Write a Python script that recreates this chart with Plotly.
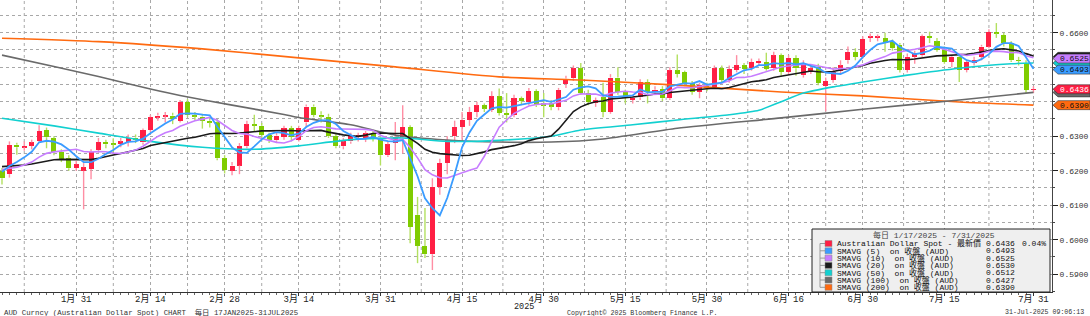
import numpy as np
import pandas as pd
import plotly.graph_objects as go

# ---------------- data ----------------
dates = pd.bdate_range("2025-01-17", "2025-07-31")

opens = [.6200,.6190,.6275,.6268,.6272,.6285,.6318,.6294,.6254,.6236,
         .6208,.6200,.6205,.6260,.6283,.6280,.6276,.6283,.6296,.6282,
         .6318,.6355,.6358,.6360,.6344,.6399,.6361,.6357,.6345,.6340,
         .6236,.6200,.6215,.6271,.6335,.6330,.6303,.6288,.6298,.6323,
         .6290,.6340,.6386,.6362,.6356,.6300,.6271,.6285,.6298,.6295,
         .6308,.6296,.6245,.6280,.6297,.6327,.6072,.5982,.5958,.6153,
         .6222,.6300,.6327,.6347,.6370,.6390,.6376,.6416,.6367,.6362,
         .6410,.6398,.6431,.6395,.6395,.6384,.6450,.6468,.6497,.6425,
         .6396,.6413,.6370,.6470,.6428,.6405,.6413,.6457,.6428,.6437,
         .6410,.6491,.6486,.6454,.6428,.6445,.6443,.6497,.6463,.6492,
         .6506,.6497,.6512,.6515,.6497,.6535,.6486,.6527,.6477,.6490,
         .6500,.6445,.6463,.6490,.6520,.6544,.6530,.6585,.6585,.6585,
         .6573,.6565,.6492,.6530,.6535,.6590,.6575,.6550,.6515,.6530,
         .6492,.6515,.6530,.6560,.6602,.6593,.6570,.6520,.6512,.6434]
highs = [.6208,.6285,.6281,.6285,.6290,.6332,.6325,.6300,.6262,.6245,
         .6228,.6222,.6262,.6295,.6290,.6294,.6295,.6305,.6305,.6322,
         .6362,.6368,.6370,.6368,.6405,.6408,.6370,.6365,.6355,.6350,
         .6245,.6225,.6280,.6345,.6362,.6338,.6310,.6312,.6330,.6330,
         .6330,.6392,.6392,.6372,.6365,.6310,.6295,.6310,.6310,.6315,
         .6315,.6300,.6285,.6341,.6390,.6332,.6124,.6092,.6178,.6235,
         .6300,.6345,.6370,.6385,.6400,.6395,.6430,.6438,.6425,.6420,
         .6415,.6440,.6436,.6425,.6405,.6440,.6475,.6505,.6512,.6435,
         .6412,.6455,.6480,.6500,.6435,.6420,.6465,.6465,.6445,.6445,
         .6500,.6537,.6490,.6460,.6455,.6455,.6505,.6505,.6505,.6535,
         .6512,.6525,.6525,.6542,.6545,.6540,.6535,.6535,.6520,.6505,
         .6510,.6470,.6500,.6520,.6560,.6555,.6590,.6598,.6595,.6600,
         .6580,.6570,.6540,.6548,.6595,.6603,.6585,.6560,.6535,.6535,
         .6520,.6530,.6565,.6610,.6628,.6600,.6575,.6530,.6520,.6445]
lows = [.6160,.6180,.6246,.6258,.6262,.6280,.6265,.6245,.6225,.6200,
        .6200,.6088,.6175,.6252,.6265,.6250,.6268,.6270,.6280,.6275,
        .6312,.6345,.6340,.6335,.6340,.6355,.6345,.6322,.6325,.6230,
        .6192,.6187,.6190,.6265,.6312,.6295,.6280,.6280,.6290,.6285,
        .6285,.6325,.6355,.6340,.6295,.6265,.6262,.6278,.6285,.6283,
        .6285,.6215,.6240,.6230,.6250,.5990,.5932,.5947,.5912,.6130,
        .6190,.6280,.6290,.6330,.6355,.6370,.6370,.6360,.6340,.6355,
        .6390,.6390,.6385,.6355,.6375,.6375,.6440,.6460,.6420,.6390,
        .6385,.6355,.6365,.6420,.6395,.6395,.6405,.6395,.6420,.6402,
        .6405,.6470,.6445,.6420,.6410,.6430,.6440,.6455,.6455,.6485,
        .6480,.6490,.6505,.6490,.6490,.6475,.6480,.6475,.6470,.6480,
        .6448,.6372,.6455,.6480,.6510,.6520,.6525,.6573,.6575,.6545,
        .6548,.6485,.6485,.6510,.6530,.6570,.6545,.6510,.6500,.6457,
        .6485,.6505,.6520,.6555,.6585,.6560,.6515,.6505,.6425,.6425]
closes = [.6178,.6275,.6268,.6272,.6282,.6315,.6297,.6254,.6233,.6207,
          .6219,.6210,.6254,.6283,.6277,.6276,.6285,.6296,.6290,.6318,
          .6355,.6360,.6360,.6350,.6399,.6361,.6357,.6345,.6340,.6236,
          .6202,.6215,.6271,.6335,.6330,.6303,.6288,.6302,.6323,.6298,
          .6325,.6386,.6362,.6358,.6300,.6271,.6285,.6300,.6302,.6308,
          .6296,.6245,.6277,.6297,.6327,.6037,.5982,.5958,.6153,.6222,
          .6289,.6327,.6347,.6370,.6390,.6380,.6416,.6367,.6362,.6410,
          .6402,.6431,.6390,.6390,.6386,.6434,.6467,.6497,.6425,.6399,
          .6405,.6370,.6470,.6428,.6410,.6412,.6457,.6428,.6435,.6410,
          .6491,.6480,.6452,.6428,.6448,.6440,.6497,.6463,.6495,.6506,
          .6495,.6515,.6518,.6495,.6535,.6486,.6527,.6497,.6512,.6497,
          .6454,.6460,.6486,.6505,.6544,.6530,.6582,.6588,.6588,.6570,
          .6555,.6492,.6530,.6541,.6590,.6585,.6550,.6515,.6530,.6492,
          .6515,.6520,.6560,.6602,.6598,.6570,.6520,.6518,.6434,.6436]

# closes of the 19 sessions before 17 Jan 2025 (needed for the short averages)
pre_closes = [.6255,.6235,.6230,.6225,.6220,.6210,.6190,.6210,.6215,.6215,
              .6250,.6225,.6205,.6200,.6170,.6190,.6210,.6205,.6200]

# longer averages
sma50_dates = ["2025-01-17","2025-01-28","2025-02-05","2025-02-14","2025-02-25","2025-03-06",
               "2025-03-14","2025-03-25","2025-04-03","2025-04-11","2025-04-22","2025-05-01",
               "2025-05-07","2025-05-16","2025-05-26","2025-06-04","2025-06-10","2025-06-13",
               "2025-06-18","2025-06-24","2025-06-30","2025-07-08","2025-07-17","2025-07-28",
               "2025-07-31"]
sma50_vals = [.6352,.6330,.6309,.6285,.6268,.6262,.6272,.6290,.6295,.6285,.6288,.6300,
              .6318,.6333,.6347,.6362,.6375,.6400,.6425,.6443,.6457,.6477,.6497,.6510,.6512]
sma100_dates = ["2025-01-17","2025-01-28","2025-02-05","2025-02-14","2025-02-20","2025-03-03",
                "2025-03-12","2025-03-14","2025-03-25","2025-04-02","2025-04-11","2025-04-22",
                "2025-05-01","2025-05-12","2025-05-26","2025-06-13","2025-06-30","2025-07-17",
                "2025-07-31"]
sma100_vals = [.6535,.6502,.6473,.6437,.6418,.6390,.6363,.6354,.6333,.6303,.6289,.6283,
               .6283,.6292,.6323,.6353,.6378,.6405,.6427]
sma200_dates = ["2025-01-17","2025-02-05","2025-02-25","2025-03-14","2025-04-02","2025-04-22",
                "2025-05-07","2025-05-26","2025-06-13","2025-06-30","2025-07-17","2025-07-31"]
sma200_vals = [.6584,.6574,.6553,.6527,.6501,.6472,.6463,.6448,.6428,.6417,.6399,.6390]

tick_dates = ["2025-01-31","2025-02-14","2025-02-28","2025-03-14","2025-03-31","2025-04-15",
              "2025-04-30","2025-05-15","2025-05-30","2025-06-16","2025-06-30","2025-07-15",
              "2025-07-31"]
# price labels visible on the right axis (0.6400 / 0.6500 sit under the value tags)
price_ticks = [0.59, 0.60, 0.61, 0.62, 0.63, 0.66]

legend_names = ["Australian Dollar Spot - 最新價", "SMAVG (5)  on 收盤 (AUD)",
                "SMAVG (10)  on 收盤 (AUD)", "SMAVG (20)  on 收盤 (AUD)",
                "SMAVG (50)  on 收盤 (AUD)", "SMAVG (100)  on 收盤 (AUD)",
                "SMAVG (200)  on 收盤 (AUD)"]
legend_values = [0.6436, 0.6493, 0.6525, 0.6530, 0.6512, 0.6427, 0.6390]
last_change = "0.04%"
legend_title = "每日 1/17/2025 - 7/31/2025"

# ---------------- styling ----------------
UP, DOWN = "#ff1f44", "#7fcc00"
UP_WICK, DOWN_WICK = "#ff8ea4", "#b3e060"
C5, C10, C20, C50, C100, C200 = "#3a9cff", "#c77dff", "#1a1a1a", "#12d0d0", "#6a6a6a", "#ff6a10"
series_colors = [UP, C5, C10, C20, C50, C100, C200]
MONO = "Liberation Mono, Noto Sans CJK TC, monospace"

PW, PH = 1052.0, 292.0
def px_x(p): return p / PW
def px_y(p): return 1 - p / PH

o = np.array(opens); h = np.array(highs); l = np.array(lows); c = np.array(closes)
n = len(dates)
x = np.arange(n)
pos = {d: i for i, d in enumerate(dates)}
def xp(ds): return [pos[pd.Timestamp(d)] for d in ds]

allc = pd.Series(list(pre_closes) + list(closes))
k = len(pre_closes)
sma5 = allc.rolling(5).mean().values[k:]
sma10 = allc.rolling(10).mean().values[k:]
sma20 = allc.rolling(20).mean().values[k:]

up = c >= o
top = np.maximum(o, c); bot = np.minimum(o, c)

fig = go.Figure()

# wicks (above and below the body)
for mask, col in ((up, UP_WICK), (~up, DOWN_WICK)):
    wx, wy = [], []
    for i in np.where(mask)[0]:
        wx += [x[i], x[i], None, x[i], x[i], None]
        wy += [l[i], bot[i], None, top[i], h[i], None]
    fig.add_trace(go.Scatter(x=wx, y=wy, mode="lines", line=dict(color=col, width=1.4),
                             hoverinfo="skip"))

# bodies
fig.add_trace(go.Bar(x=x, base=bot, y=np.maximum(top - bot, 0.00028), width=0.68,
                     marker=dict(color=[UP if u else DOWN for u in up], line=dict(width=0)),
                     hoverinfo="skip"))

# moving averages
fig.add_trace(go.Scatter(x=xp(sma200_dates), y=sma200_vals, mode="lines",
                         line=dict(color=C200, width=1.6, shape="spline", smoothing=0.6)))
fig.add_trace(go.Scatter(x=xp(sma100_dates), y=sma100_vals, mode="lines",
                         line=dict(color=C100, width=1.6, shape="spline", smoothing=0.6)))
fig.add_trace(go.Scatter(x=xp(sma50_dates), y=sma50_vals, mode="lines",
                         line=dict(color=C50, width=1.6, shape="spline", smoothing=0.6)))
fig.add_trace(go.Scatter(x=x, y=sma20, mode="lines", line=dict(color=C20, width=1.6)))
fig.add_trace(go.Scatter(x=x, y=sma10, mode="lines", line=dict(color=C10, width=1.6)))
fig.add_trace(go.Scatter(x=x, y=sma5, mode="lines", line=dict(color=C5, width=1.8)))

tickvals = xp(tick_dates)
ticktext = [f"{pd.Timestamp(d).month}月 {pd.Timestamp(d).day}" for d in tick_dates]
mids = [(a + b) / 2 for a, b in zip(tickvals[:-1], tickvals[1:])]
mids = [tickvals[0] - (tickvals[1] - tickvals[0]) * 0.7] + mids

GRID = "#a8a8a8"
fig.update_xaxes(range=[-0.27, 141.5], tickmode="array", tickvals=tickvals, ticktext=ticktext,
                 ticks="outside", ticklen=3, tickcolor="#333", showline=True, linecolor="#333",
                 linewidth=1, showgrid=True, gridcolor=GRID, griddash="dot", gridwidth=1,
                 zeroline=False, tickfont=dict(family=MONO, size=9, color="#222"),
                 ticklabelstandoff=-5,
                 minor=dict(tickmode="array", tickvals=list(x), showgrid=False,
                            ticks="outside", ticklen=2, tickcolor="#666"))
fig.update_yaxes(side="right", range=[0.58484, 0.66948], tickmode="array",
                 tickvals=price_ticks, tickformat=".4f", ticks="outside", ticklen=5,
                 tickcolor="#222", showline=True, linecolor="#444", linewidth=1,
                 showgrid=False, zeroline=False,
                 tickfont=dict(family=MONO, size=8, color="#333"),
                 minor=dict(tick0=0.59, dtick=0.005, showgrid=True, gridcolor=GRID,
                            griddash="dot", gridwidth=1, ticks="outside", ticklen=2,
                            tickcolor="#444"))

shapes, annos = [], []

# vertical gridlines half-way between the dated ticks
for m in mids:
    shapes.append(dict(type="line", xref="x", yref="paper", x0=m, x1=m, y0=0, y1=1,
                       layer="below", line=dict(color=GRID, width=1, dash="dot")))

# value tags on the right axis (tags hidden under others carry no text)
tag_order = [3, 4, 2, 1, 5, 0, 6]
tag_text = {2, 1, 0, 6}
hh = 4.5 / 3450.0
x_tip, x_l, x_r = px_x(1053), px_x(1058), px_x(1090)
for j in tag_order:
    v = legend_values[j]
    path = (f"M {x_tip},{v} L {x_l},{v+hh} L {x_r},{v+hh} L {x_r},{v-hh} "
            f"L {x_l},{v-hh} Z")
    shapes.append(dict(type="path", xref="paper", yref="y", path=path,
                       fillcolor=series_colors[j], line=dict(color="#333", width=0.6)))
    if j in tag_text:
        annos.append(dict(xref="paper", yref="y", x=px_x(1074), y=v, text=f"{v:.4f}",
                          showarrow=False, xanchor="center", yanchor="middle",
                          font=dict(family=MONO, size=8,
                                    color="white" if j == 0 else "#111")))

# legend box
shapes.append(dict(type="rect", xref="paper", yref="paper", x0=px_x(812), x1=px_x(1050),
                   y0=px_y(292), y1=px_y(229), fillcolor="#efefef",
                   line=dict(color="#222", width=1)))
annos.append(dict(xref="paper", yref="paper", x=px_x(934), y=px_y(235), text=legend_title,
                  showarrow=False, xanchor="center", yanchor="middle", borderpad=0,
                  font=dict(family=MONO, size=8, color="#444")))
row_y = [243.5 + 7.3 * i for i in range(len(legend_names))]
shapes.append(dict(type="line", xref="paper", yref="paper", x0=px_x(820), x1=px_x(820),
                   y0=px_y(row_y[0]), y1=px_y(row_y[-1]), line=dict(color="#999", width=1)))
for i, (name, val, col) in enumerate(zip(legend_names, legend_values, series_colors)):
    yy = row_y[i]
    shapes.append(dict(type="line", xref="paper", yref="paper", x0=px_x(820), x1=px_x(825),
                       y0=px_y(yy), y1=px_y(yy), line=dict(color="#999", width=1)))
    shapes.append(dict(type="rect", xref="paper", yref="paper", x0=px_x(825), x1=px_x(832),
                       y0=px_y(yy + 3), y1=px_y(yy - 3), fillcolor=col,
                       line=dict(color="#888", width=0.5)))
    annos.append(dict(xref="paper", yref="paper", x=px_x(836), y=px_y(yy), text=name,
                      showarrow=False, xanchor="left", yanchor="middle", borderpad=0,
                      font=dict(family=MONO, size=8, color="#111")))
    annos.append(dict(xref="paper", yref="paper", x=px_x(985), y=px_y(yy), text=f"{val:.4f}",
                      showarrow=False, xanchor="left", yanchor="middle", borderpad=0,
                      font=dict(family=MONO, size=8, color="#111")))
annos.append(dict(xref="paper", yref="paper", x=px_x(1047), y=px_y(row_y[0]), text=last_change,
                  showarrow=False, xanchor="right", yanchor="middle", borderpad=0,
                  font=dict(family=MONO, size=8, color="#111")))

# year label and footer
annos.append(dict(xref="paper", yref="paper", x=px_x(524), y=px_y(306.5), text="2025",
                  showarrow=False, xanchor="center", yanchor="middle", borderpad=0,
                  font=dict(family=MONO, size=8.5, color="#222")))
annos.append(dict(xref="paper", yref="paper", x=px_x(2), y=px_y(312.5), showarrow=False,
                  text="AUD Curncy (Australian Dollar Spot) CHART  每日 17JAN2025-31JUL2025",
                  xanchor="left", yanchor="middle", font=dict(family=MONO, size=7.4, color="#333")))
annos.append(dict(xref="paper", yref="paper", x=px_x(565), y=px_y(312.5), showarrow=False,
                  text="Copyright© 2025 Bloomberg Finance L.P.",
                  xanchor="left", yanchor="middle", font=dict(family=MONO, size=6.6, color="#333")))
annos.append(dict(xref="paper", yref="paper", x=px_x(1086), y=px_y(312.5), showarrow=False,
                  text="31-Jul-2025 09:06:13",
                  xanchor="right", yanchor="middle", font=dict(family=MONO, size=6.6, color="#333")))

fig.update_layout(width=1090, height=316, margin=dict(l=0, r=38, t=0, b=24),
                  paper_bgcolor="white", plot_bgcolor="white", showlegend=False,
                  shapes=shapes, annotations=annos, bargap=0)

fig.write_html("out.html")
